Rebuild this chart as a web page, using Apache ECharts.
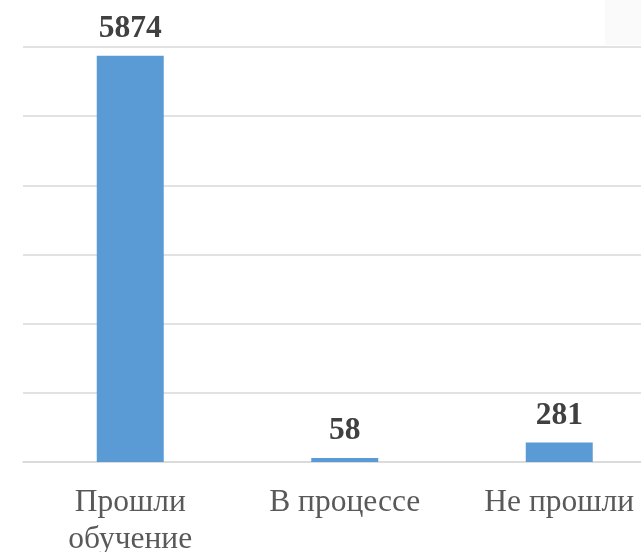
<!DOCTYPE html>
<html>
<head>
<meta charset="utf-8">
<script src="https://cdn.jsdelivr.net/npm/echarts@6/dist/echarts.min.js"></script>
<style>html,body{margin:0;padding:0;background:#fff;}#c{width:641px;height:552px;}</style>
</head>
<body>
<div id="c"></div>
<script>
const categories = ['Прошли\nобучение', 'В процессе', 'Не прошли'];
const values = [5874, 58, 281];
const axisMax = 6000;
const axisInterval = 1000;

const chart = echarts.init(document.getElementById('c'), null, {renderer: 'canvas'});
chart.setOption({
  animation: false,
  backgroundColor: '#ffffff',
  graphic: [{
    type: 'rect', left: 605, top: 0, shape: {width: 40, height: 45},
    style: {fill: '#fafafa'}, z: -10
  }],
  grid: {left: 23, top: 47, width: 643.5, height: 415, containLabel: false, outerBoundsMode: 'none'},
  xAxis: {
    type: 'category',
    data: categories,
    axisTick: {show: false},
    axisLine: {lineStyle: {color: '#d9d9d9', width: 1.5}},
    axisLabel: {
      color: '#595959', fontFamily: 'Liberation Serif', fontSize: 31.5,
      lineHeight: 37, margin: 22, interval: 0
    }
  },
  yAxis: {
    type: 'value', min: 0, max: axisMax, interval: axisInterval,
    axisLabel: {show: false},
    axisLine: {show: false}, axisTick: {show: false},
    splitLine: {lineStyle: {color: '#d9d9d9', width: 1.5}}
  },
  series: [{
    type: 'bar',
    data: values,
    barWidth: 67,
    itemStyle: {color: '#5b9bd5'},
    label: {
      show: true, position: 'top', distance: 11,
      color: '#404040', fontFamily: 'Liberation Serif', fontWeight: 'bold', fontSize: 31.5
    }
  }]
});
</script>
</body>
</html>
